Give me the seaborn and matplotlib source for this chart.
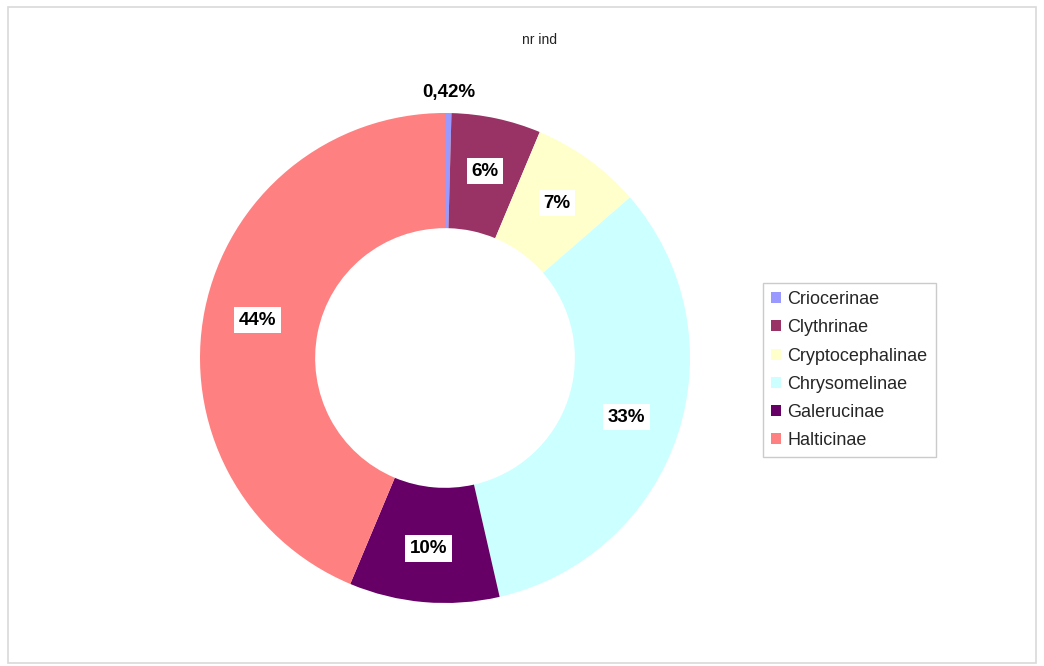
import matplotlib
matplotlib.use("Agg")
import matplotlib.pyplot as plt
import seaborn as sns
import numpy as np
from matplotlib.patches import Rectangle, Patch

sns.set_theme(style="white")
plt.rcParams['font.family'] = ['Liberation Sans', 'DejaVu Sans']

categories = ["Criocerinae", "Clythrinae", "Cryptocephalinae", "Chrysomelinae", "Galerucinae", "Halticinae"]
values = [0.42, 5.9, 7.3, 32.8, 9.9, 43.68]
labels = ["0,42%", "6%", "7%", "33%", "10%", "44%"]
colors = ["#9999FF", "#993366", "#FFFFCC", "#CCFFFF", "#660066", "#FF8080"]
palette = sns.color_palette(colors)

W, H = 1044, 666
fig = plt.figure(figsize=(W / 100, H / 100), dpi=100)

# outer frame
fig.patches.append(Rectangle((8 / W, 3 / H), 1028 / W, 656 / H, transform=fig.transFigure,
                             fill=False, edgecolor="#D9D9D9", linewidth=1.2))

cx, cy, R = 445, 358, 245
ax = fig.add_axes([(cx - R) / W, (H - cy - R) / H, 2 * R / W, 2 * R / H])
wedges, _ = ax.pie(values, colors=palette, startangle=90, counterclock=False,
                   radius=1.0, wedgeprops=dict(width=0.47, linewidth=0))
ax.set_xlim(-1, 1)
ax.set_ylim(-1, 1)
ax.set_aspect("equal")
ax.axis("off")

total = sum(values)
cum = 0
for i, (v, lab) in enumerate(zip(values, labels)):
    mid = 90 - (cum + v / 2) / total * 360
    cum += v
    th = np.deg2rad(mid)
    if i == 0:
        r = 1.085
        ax.text(r * np.cos(th), r * np.sin(th), lab, ha="center", va="center",
                fontsize=13.5, fontweight="bold", color="black")
    else:
        r = 0.78
        ax.text(r * np.cos(th), r * np.sin(th), lab, ha="center", va="center",
                fontsize=13.5, fontweight="bold", color="black",
                bbox=dict(boxstyle="square,pad=0.25", facecolor="white", edgecolor="none"))

fig.text(540 / W, 1 - 40 / H, "nr ind", ha="center", va="center", fontsize=10, color="#222222")

handles = [Patch(facecolor=c, edgecolor="none") for c in palette]
leg = fig.legend(handles, categories, loc="upper left", bbox_to_anchor=(763 / W, 1 - 283 / H),
                 frameon=True, fontsize=13, handlelength=0.55, handleheight=0.55,
                 handletextpad=0.35, labelspacing=0.62, borderpad=0.45, fancybox=False,
                 borderaxespad=0)
leg.get_frame().set_edgecolor("#BFBFBF")
leg.get_frame().set_linewidth(1.0)

fig.savefig("out.png", dpi=100, facecolor="white")
